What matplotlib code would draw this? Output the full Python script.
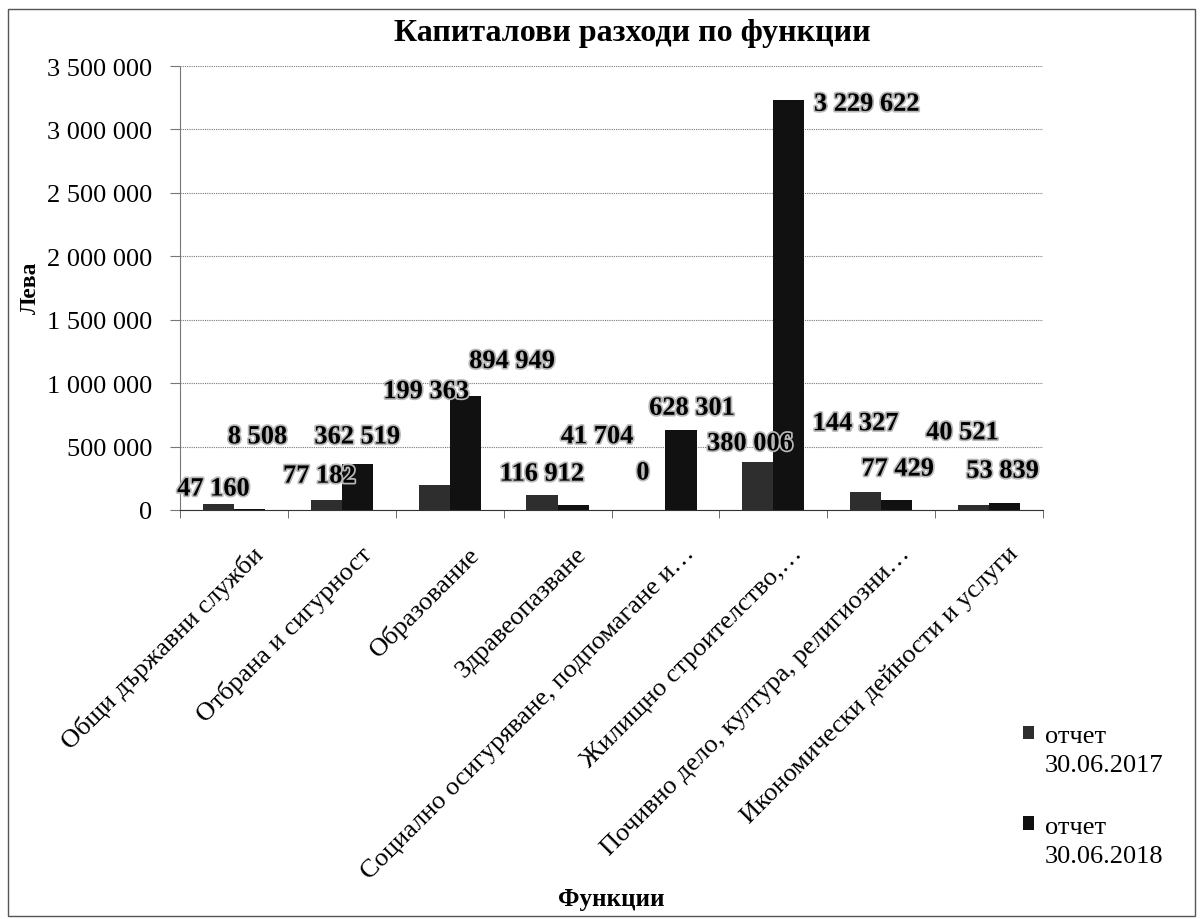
import matplotlib
matplotlib.use('Agg')
import matplotlib.pyplot as plt
import matplotlib.patheffects as pe
import matplotlib.transforms as mtransforms
from matplotlib.patches import Rectangle
import numpy as np

plt.rcParams['font.family'] = ['Liberation Serif', 'DejaVu Serif']

categories = ['Общи държавни служби', 'Отбрана и сигурност', 'Образование', 'Здравеопазване',
              'Социално осигуряване, подпомагане и…', 'Жилищно строителство,…',
              'Почивно дело, култура, религиозни…', 'Икономически дейности и услуги']
values_2017 = [47160, 77182, 199363, 116912, 0, 380006, 144327, 40521]
values_2018 = [8508, 362519, 894949, 41704, 628301, 3229622, 77429, 53839]
series_names = ['отчет', 'отчет']
series_dates = ['30.06.2017', '30.06.2018']
yticks = np.arange(0, 3500001, 500000)

# where the data labels sit relative to the bar tops (pixels: right, up)
off_2017 = [(-5, 15), (-7, 24), (-8, 93), (0, 21), (-7, 37), (-8, 18), (-10, 68), (-11, 72)]
off_2018 = [(8, 72), (0, 27), (47, 35), (24, 68), (11, 22), (78, -4), (1, 31), (-2, 32)]


def fmt(v):
    return f'{v:,}'.replace(',', ' ')


W, H = 1203, 920
fig = plt.figure(figsize=(W / 100, H / 100), dpi=100)
ax = fig.add_axes([180 / W, 1 - 511 / H, (1043 - 180) / W, (511 - 67) / H])

x = np.arange(len(categories))
w = 0.288
b17 = ax.bar(x - w / 2, values_2017, w, color='#2e2e2e', zorder=2)
b18 = ax.bar(x + w / 2, values_2018, w, color='#111111', zorder=2)

ax.set_xlim(-0.5, len(categories) - 0.5)
ax.set_ylim(0, 3500000)
ax.set_yticks(yticks)
ax.set_yticklabels([fmt(v) for v in yticks])
ax.yaxis.grid(True, linestyle=(0, (1, 1)), color='#777777', linewidth=0.8)
ax.set_axisbelow(True)
for s in ['top', 'right']:
    ax.spines[s].set_visible(False)
ax.spines['left'].set_linestyle((0, (1, 1)))
ax.spines['left'].set_color('#777777')
ax.spines['bottom'].set_color('#333333')
ax.tick_params(axis='y', length=7, color='#777777', pad=13, labelsize=19)

ax.set_xticks(x)
ax.set_xticklabels(categories, rotation=45, ha='right', va='top',
                   rotation_mode='anchor', fontsize=19)
ax.tick_params(axis='x', which='major', length=0, pad=23)
ax.set_xticks(np.arange(len(categories) + 1) - 0.5, minor=True)
ax.tick_params(axis='x', which='minor', length=6, color='#555555')
shift = mtransforms.ScaledTranslation(0.18, 0, fig.dpi_scale_trans)
for lab in ax.get_xticklabels():
    lab.set_transform(lab.get_transform() + shift)

glow = [pe.withStroke(linewidth=2.5, foreground='#b8b8b8')]
for bars, vals, offs in [(b17, values_2017, off_2017), (b18, values_2018, off_2018)]:
    for rect, v, (dx, dy) in zip(bars, vals, offs):
        ax.annotate(fmt(v), xy=(rect.get_x() + rect.get_width() / 2, rect.get_height()),
                    xytext=(dx, dy), textcoords='offset pixels', ha='center', va='center',
                    fontsize=19, fontweight='bold', path_effects=glow, zorder=5)

fig.text(632 / W, 1 - 34 / H, 'Капиталови разходи по функции', ha='center', va='center',
         fontsize=23, fontweight='bold')
ax.set_ylabel('Лева', fontsize=17, fontweight='bold', va='center')
ax.yaxis.set_label_coords((30 - 180) / 863, (511 - 288) / 444)
ax.set_xlabel('Функции', fontsize=18, fontweight='bold', va='center')
ax.xaxis.set_label_coords(0.5, (511 - 900) / 444)

leg = ax.legend([b17, b18], series_names, loc='upper left',
                bbox_to_anchor=(1023 / W, 1 - 726 / H), bbox_transform=fig.transFigure,
                frameon=False, fontsize=19, handlelength=0.42, handleheight=0.42,
                handletextpad=0.4, labelspacing=2.6, borderpad=0, borderaxespad=0)
fig.canvas.draw()
for t, d in zip(leg.get_texts(), series_dates):
    bb = t.get_window_extent()
    fig.text(bb.x0, (bb.y0 + bb.y1) / 2 - 29, d, transform=None, fontsize=19,
             ha='left', va='center')

fig.patches.append(Rectangle((8 / W, 1 - 917 / H), (1195 - 8) / W, (917 - 10) / H,
                             transform=fig.transFigure, fill=False, edgecolor='#555555', lw=1))

fig.savefig('out.png', dpi=100)
